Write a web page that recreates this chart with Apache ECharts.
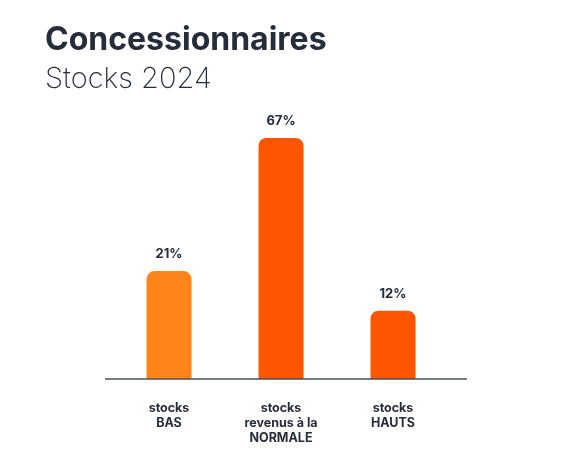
<!DOCTYPE html>
<html>
<head>
<meta charset="utf-8">
<script src="https://cdn.jsdelivr.net/npm/echarts@6/dist/echarts.min.js"></script>
<style>html,body{margin:0;padding:0;background:#fff}#main{width:587px;height:462px}</style>
</head>
<body>
<div id="main"></div>
<script>
// categories, bar heights as drawn, and printed labels
var categories = ['stocks\nBAS', 'stocks\nrevenus à la\nNORMALE', 'stocks\nHAUTS'];
var barValues = [30, 67, 19];
var barLabels = ['21%', '67%', '12%'];
var barColors = ['#FF8419', '#FF5500', '#FF5500'];

var chart = echarts.init(document.getElementById('main'));
chart.setOption({
    backgroundColor: '#fff',
    title: [{
        text: 'Concessionnaires',
        left: 40, top: 19,
        textStyle: {fontFamily: 'Inter', fontWeight: 'bold', fontSize: 32, color: '#252D3A'}
    }, {
        text: 'Stocks 2024',
        left: 40, top: 60,
        textStyle: {fontFamily: 'Inter', fontWeight: 200, fontSize: 29, color: '#252D3A'}
    }],
    // axis baseline, a bit wider than the plot area
    graphic: [{
        type: 'line',
        shape: {x1: 105, y1: 379, x2: 467, y2: 379},
        style: {stroke: '#4a4f58', lineWidth: 1.5},
        z: 10
    }],
    grid: {left: 113, right: 138, top: 138, bottom: 83},
    xAxis: {
        type: 'category',
        data: categories,
        axisLine: {show: false},
        axisTick: {show: false},
        axisLabel: {margin: 22, fontFamily: 'Inter', fontWeight: 'bold', fontSize: 12.5, color: '#252D3A', lineHeight: 15}
    },
    yAxis: {type: 'value', min: 0, max: 67, show: false, splitLine: {show: false}},
    series: [{
        type: 'bar',
        barWidth: 45,
        data: barValues.map(function (v, i) {
            return {value: v, itemStyle: {color: barColors[i]}};
        }),
        itemStyle: {borderRadius: [8, 8, 0, 0]},
        label: {
            show: true, position: 'top', distance: 10,
            formatter: function (p) { return barLabels[p.dataIndex]; },
            fontFamily: 'Inter', fontWeight: 'bold', fontSize: 13, color: '#252D3A'
        }
    }]
});
</script>
</body>
</html>
